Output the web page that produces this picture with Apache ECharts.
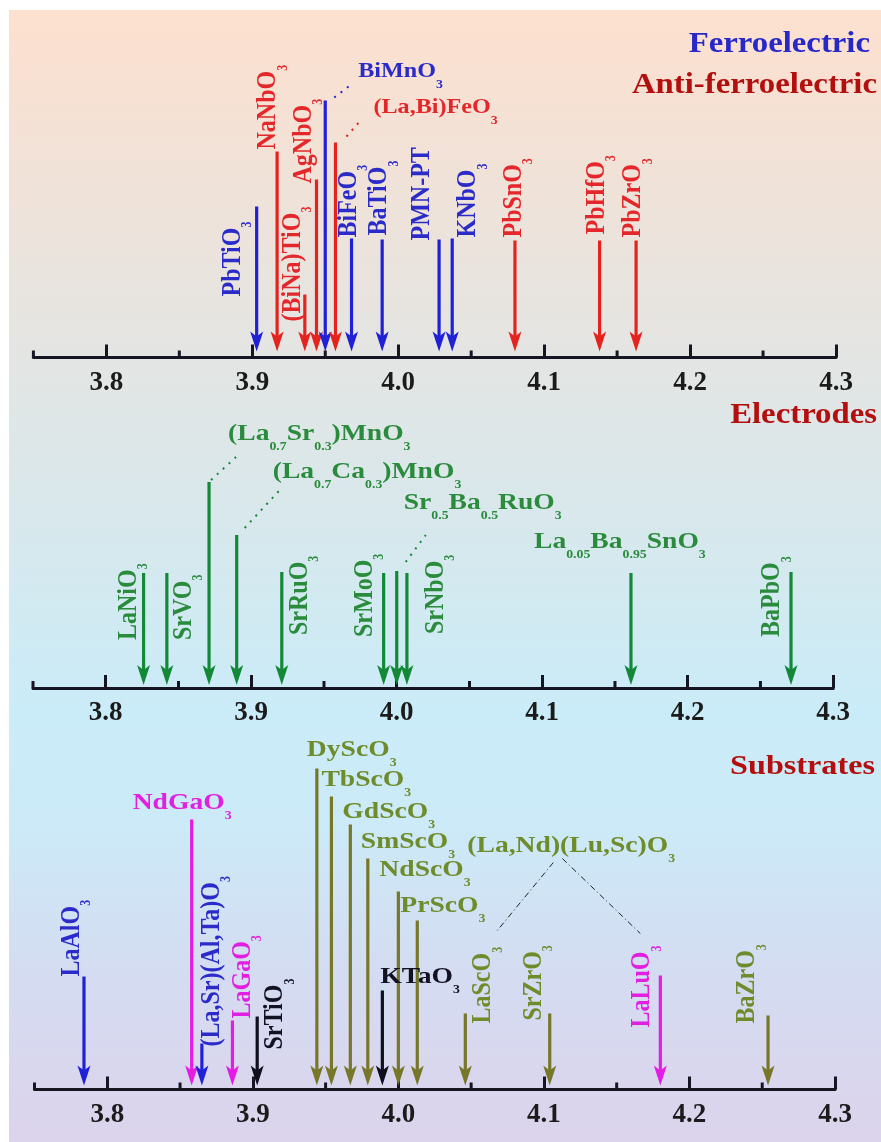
<!DOCTYPE html>
<html><head><meta charset="utf-8">
<script src="https://cdn.jsdelivr.net/npm/echarts@6/dist/echarts.min.js"></script>
<style>html,body{margin:0;padding:0;background:#fff}#c{width:881px;height:1142px}</style>
</head><body><div id="c"></div><script>
// ---------------- DATA ----------------
const tickValues = [3.8, 3.9, 4.0, 4.1, 4.2, 4.3];
const minorTickValues = [3.75, 3.85, 3.95, 4.05, 4.15, 4.25];

// Ferroelectric / anti-ferroelectric panel (lattice parameter, Angstrom)
const feNames = ['PbTiO_3','NaNbO_3','(BiNa)TiO_3','AgNbO_3','BiMnO_3','(La,Bi)FeO_3','BiFeO_3','BaTiO_3','PMN-PT','KNbO_3','PbSnO_3','PbHfO_3','PbZrO_3'];
const feLattice = [3.903, 3.917, 3.936, 3.944, 3.950, 3.957, 3.968, 3.989, 4.028, 4.037, 4.080, 4.138, 4.163];
const feArrowLen = [145, 200, 57, 172, 251, 209, 113, 112, 112, 113, 111, 111, 111];
const feGroup = ['FE','AFE','AFE','AFE','FE','AFE','FE','FE','FE','FE','AFE','AFE','AFE'];

// Electrodes panel
const elNames = ['LaNiO_3','SrVO_3','(La_{0.7}Sr_{0.3})MnO_3','(La_{0.7}Ca_{0.3})MnO_3','SrRuO_3','SrMoO_3','Sr_{0.5}Ba_{0.5}RuO_3','SrNbO_3','La_{0.05}Ba_{0.95}SnO_3','BaPbO_3'];
const elLattice = [3.826, 3.842, 3.871, 3.890, 3.921, 3.991, 4.000, 4.007, 4.161, 4.271];
const elArrowLen = [112, 112, 203, 150, 113, 112, 114, 112, 112, 113];
const elGroup = ['EL','EL','EL','EL','EL','EL','EL','EL','EL','EL'];

// Substrates panel
const subNames = ['LaAlO_3','NdGaO_3','(La,Sr)(Al,Ta)O_3','LaGaO_3','SrTiO_3','DyScO_3','TbScO_3','GdScO_3','SmScO_3','KTaO_3','NdScO_3','PrScO_3','LaScO_3','SrZrO_3','LaLuO_3','BaZrO_3'];
const subLattice = [3.784, 3.858, 3.865, 3.886, 3.903, 3.944, 3.954, 3.967, 3.979, 3.989, 4.000, 4.013, 4.046, 4.104, 4.180, 4.254];
const subArrowLen = [109, 266, 42, 65, 69, 317, 289, 261, 227, 95, 194, 165, 72, 72, 110, 70];
const subGroup = ['SUB_B','SUB_M','SUB_B','SUB_M','SUB_K','SUB_O','SUB_O','SUB_O','SUB_O','SUB_K','SUB_O','SUB_O','SUB_O','SUB_O','SUB_M','SUB_O'];

const panelTitles = ['Ferroelectric', 'Anti-ferroelectric', 'Electrodes', 'Substrates'];
const groupNoteText = '(La,Nd)(Lu,Sc)O_3';

// ---------------- STYLE / LAYOUT ----------------
const FONT = '"Liberation Serif","Times New Roman",Times,serif';
const AXIS_COLOR = '#161622';
const ARROW_COLOR = {FE:'#2020d6', AFE:'#e4231f', EL:'#138938', SUB_B:'#2020d6', SUB_M:'#e41ce4', SUB_K:'#0e0e1c', SUB_O:'#77772a'};
const LABEL_COLOR = {FE:'#2b2bc9', AFE:'#e3272a', EL:'#2b8b3d', SUB_B:'#2b2bc9', SUB_M:'#e01fe0', SUB_K:'#121222', SUB_O:'#6f8c2c'};
const PANELS = [
  {left:33.4, right:45, top:20, height:337.5, yMin:-6},
  {left:33, right:47.8, top:400, height:288, yMin:-3},
  {left:34.5, right:46, top:720, height:369.5, yMin:-4}
];
// label placement relative to arrow top (px); default rotated, h = horizontal
const LAYOUT = {
  'PbTiO_3':{dx:-24, dy:90}, 'NaNbO_3':{dx:-9, dy:-2}, '(BiNa)TiO_3':{dx:-12, dy:27}, 'AgNbO_3':{dx:-13, dy:4},
  'BiMnO_3':{h:1, dx:33, dy:-29, fs:21, lead:[9,-3,26,-16]},
  '(La,Bi)FeO_3':{h:1, dx:38, dy:-35, fs:21, lead:[11,-6,26,-23]},
  'BiFeO_3':{dx:-3, dy:-1}, 'BaTiO_3':{dx:-3, dy:-4}, 'PMN-PT':{dx:-17, dy:1}, 'KNbO_3':{dx:16, dy:-1},
  'PbSnO_3':{dx:-1, dy:-3}, 'PbHfO_3':{dx:-3, dy:-6}, 'PbZrO_3':{dx:-3, dy:-3},

  'LaNiO_3':{dx:-15, dy:67}, 'SrVO_3':{dx:17, dy:67},
  '(La_{0.7}Sr_{0.3})MnO_3':{h:1, dx:19, dy:-48, lead:[2,-2,27,-25]},
  '(La_{0.7}Ca_{0.3})MnO_3':{h:1, dx:36, dy:-63, lead:[8,-7,45,-47]},
  'SrRuO_3':{dx:18, dy:63}, 'SrMoO_3':{dx:-19, dy:64},
  'Sr_{0.5}Ba_{0.5}RuO_3':{h:1, dx:7, dy:-68, lead:[9,-9,29,-36]},
  'SrNbO_3':{dx:29, dy:61},
  'La_{0.05}Ba_{0.95}SnO_3':{h:1, dx:-97, dy:-31},
  'BaPbO_3':{dx:-19, dy:65},

  'LaAlO_3':{dx:-12, dy:0}, 'NdGaO_3':{h:1, dx:-59, dy:-17}, '(La,Sr)(Al,Ta)O_3':{dx:10, dy:3},
  'LaGaO_3':{dx:10, dy:-2}, 'SrTiO_3':{dx:18, dy:33},
  'DyScO_3':{h:1, dx:-10, dy:-19}, 'TbScO_3':{h:1, dx:-10, dy:-17}, 'GdScO_3':{h:1, dx:-8, dy:-13},
  'SmScO_3':{h:1, dx:-7, dy:-17}, 'KTaO_3':{h:1, dx:-2, dy:-14}, 'NdScO_3':{h:1, dx:-19, dy:-22},
  'PrScO_3':{h:1, dx:-17, dy:-15},
  'LaScO_3':{dx:18, dy:10, note:{dx:2, dy:-168, leads:[[88,-151,32,-83],[97,-155,175,-80]]}},
  'SrZrO_3':{dx:-16, dy:7}, 'LaLuO_3':{dx:-18, dy:52}, 'BaZrO_3':{dx:-21, dy:8}
};

function toRich(s) {
  let out = '', buf = '';
  for (let i = 0; i < s.length; i++) {
    if (s[i] === '_') {
      if (buf) { out += '{m|' + buf + '}'; buf = ''; }
      let sub;
      if (s[i + 1] === '{') { const j = s.indexOf('}', i); sub = s.slice(i + 2, j); i = j; }
      else { sub = s[i + 1]; i++; }
      out += '{s|' + sub + '}';
    } else buf += s[i];
  }
  if (buf) out += '{m|' + buf + '}';
  return out;
}

function textEl(str, x, y, vertical, color, fs, sfs) {
  return {
    type:'text', x:x, y:y, rotation: vertical ? Math.PI / 2 : 0,
    scaleX: vertical ? 1 : 1.15, scaleY: vertical ? 1.15 : 1, z2: 10,
    style: {
      text: toRich(str), fill: color, align:'left', verticalAlign:'middle',
      textAlign:'left', textVerticalAlign:'middle',
      font: 'bold ' + fs + 'px ' + FONT,
      rich: {
        m: {fontSize: fs, fontWeight:'bold', fontFamily: FONT, lineHeight: 38, fill: color},
        s: {fontSize: sfs, fontWeight:'bold', fontFamily: FONT, lineHeight: sfs, verticalAlign:'bottom', fill: color}
      }
    }
  };
}

function arrowRenderer(names, groups) {
  return function (params, api) {
    const i = params.dataIndex;
    const top = api.coord([api.value(0), api.value(1)]);
    const tip = api.coord([api.value(0), 0]);
    const ac = ARROW_COLOR[groups[i]], lc = LABEL_COLOR[groups[i]];
    const kids = [
      {type:'line', shape:{x1:top[0], y1:top[1], x2:tip[0], y2:tip[1] - 10}, style:{stroke:ac, lineWidth:3.2}},
      {type:'polygon', shape:{points:[[tip[0], tip[1]], [tip[0] - 6.5, tip[1] - 20], [tip[0], tip[1] - 15], [tip[0] + 6.5, tip[1] - 20]]}, style:{fill:ac}}
    ];
    const L = LAYOUT[names[i]];
    if (L) {
      kids.push(textEl(names[i], top[0] + L.dx, top[1] + L.dy, !L.h, lc, L.fs || 24, 12));
      if (L.lead) {
        kids.push({type:'line', z2:5, shape:{x1:top[0] + L.lead[0], y1:top[1] + L.lead[1], x2:top[0] + L.lead[2], y2:top[1] + L.lead[3]},
          style:{stroke:ac, lineWidth:2, lineDash:[2, 6]}});
      }
      if (L.note) {
        kids.push(textEl(groupNoteText, top[0] + L.note.dx, top[1] + L.note.dy, false, lc, 24, 12));
        L.note.leads.forEach(function (l) {
          kids.push({type:'line', z2:5, shape:{x1:top[0] + l[0], y1:top[1] + l[1], x2:top[0] + l[2], y2:top[1] + l[3]},
            style:{stroke:'#222', lineWidth:1, lineDash:[6, 3, 1, 3]}});
        });
      }
    }
    return {type:'group', children:kids};
  };
}

function minorTickRenderer(params, api) {
  const p = api.coord([api.value(0), api.value(1)]);
  return {type:'line', shape:{x1:p[0], y1:p[1], x2:p[0], y2:p[1] - 7}, style:{stroke:AXIS_COLOR, lineWidth:3}};
}

const panelData = [
  {names:feNames, lattice:feLattice, len:feArrowLen, groups:feGroup},
  {names:elNames, lattice:elLattice, len:elArrowLen, groups:elGroup},
  {names:subNames, lattice:subLattice, len:subArrowLen, groups:subGroup}
];

const grids = [], xAxes = [], yAxes = [], series = [];
PANELS.forEach(function (P, g) {
  grids.push({left:P.left, right:P.right, top:P.top, height:P.height, containLabel:false, outerBoundsMode:'none'});
  xAxes.push({
    gridIndex:g, type:'value', min:3.75, max:4.3,
    axisLine:{show:true, onZero:false, lineStyle:{color:AXIS_COLOR, width:3}},
    axisTick:{show:true, inside:true, length:13, customValues:tickValues, lineStyle:{color:AXIS_COLOR, width:3}},
    axisLabel:{show:true, customValues:tickValues, formatter:function (v) { return Number(v).toFixed(1); },
      fontSize:27, fontWeight:'bold', fontFamily:FONT, color:'#1b1b1b', margin:12},
    splitLine:{show:false}
  });
  yAxes.push({gridIndex:g, type:'value', min:P.yMin, max:P.height + P.yMin, show:false, splitLine:{show:false}});
  const D = panelData[g];
  series.push({
    type:'custom', xAxisIndex:g, yAxisIndex:g, clip:false, silent:true,
    data: D.lattice.map(function (x, i) { return [x, D.len[i]]; }),
    renderItem: arrowRenderer(D.names, D.groups)
  });
  series.push({
    type:'custom', xAxisIndex:g, yAxisIndex:g, clip:false, silent:true,
    data: minorTickValues.map(function (v) { return [v, P.yMin]; }),
    renderItem: minorTickRenderer
  });
});

function titleEl(text, x, y, color, fs) {
  return {type:'text', x:x, y:y, scaleX:1.15, z:10,
    style:{text:text, fill:color, font:'bold ' + fs + 'px ' + FONT, textAlign:'right', textVerticalAlign:'middle', align:'right', verticalAlign:'middle'}};
}

const chart = echarts.init(document.getElementById('c'), null, {renderer:'canvas'});
chart.setOption({
  animation:false,
  backgroundColor:'#ffffff',
  grid:grids, xAxis:xAxes, yAxis:yAxes, series:series,
  graphic:[
    {type:'rect', z:-100, silent:true, shape:{x:9, y:10, width:872, height:1132},
      style:{fill:new echarts.graphic.LinearGradient(0, 0, 0, 1, [
        {offset:0, color:'#fde0cf'}, {offset:0.15, color:'#f0e2d8'}, {offset:0.3, color:'#e4e5e3'},
        {offset:0.45, color:'#d8e8ec'}, {offset:0.62, color:'#caecf8'}, {offset:0.72, color:'#cceaf7'},
        {offset:0.85, color:'#d4dcf1'}, {offset:1, color:'#dcd3ec'}])}},
    titleEl(panelTitles[0], 870, 45, '#2828c8', 28.5),
    titleEl(panelTitles[1], 877, 86, '#b40f0f', 28.5),
    titleEl(panelTitles[2], 877, 416, '#b40f0f', 28.5),
    titleEl(panelTitles[3], 875, 767, '#b40f0f', 28)
  ]
});
</script></body></html>
